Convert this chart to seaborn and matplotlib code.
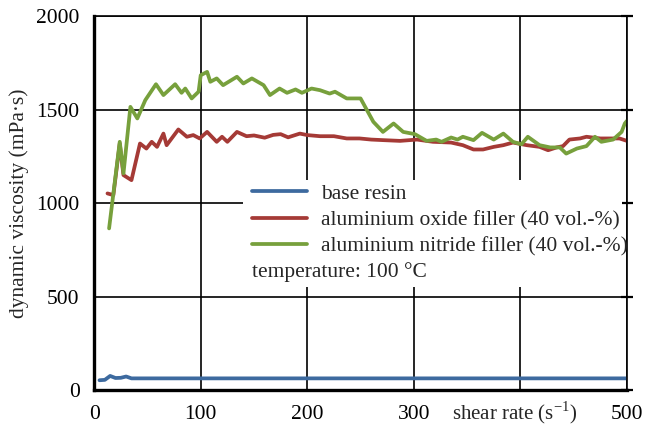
import pandas as pd
import seaborn as sns
import matplotlib.pyplot as plt
from matplotlib.patches import Rectangle

# values
base_x = [5, 10, 15, 20, 25, 30, 35, 40, 100, 200, 300, 400, 500]
base_v = [53, 55, 76, 65, 66, 73, 63, 63, 63, 63, 63, 63, 63]

oxide_x = [12.5, 18, 24, 27.5, 35, 43, 49, 54, 59, 65, 68, 79, 87, 93, 99, 106, 115, 120,
           125, 134, 143, 150, 160, 168, 175, 182, 193, 200, 212, 225, 237, 249, 260, 271,
           287, 303, 318, 335, 346, 356, 365, 375, 384, 393, 406, 418, 426, 434, 440, 446,
           456, 462, 475, 484, 493, 500]
oxide_v = [1052, 1043, 1319, 1150, 1123, 1319, 1292, 1328, 1301, 1372, 1310, 1394, 1355, 1364,
           1346, 1381, 1328, 1355, 1328, 1381, 1358, 1362, 1350, 1365, 1369, 1352, 1372, 1364,
           1358, 1358, 1346, 1346, 1340, 1337, 1333, 1340, 1328, 1324, 1310, 1287, 1287, 1301,
           1310, 1324, 1310, 1301, 1283, 1298, 1305, 1340, 1346, 1355, 1346, 1346, 1346, 1333]

nitride_x = [14, 24, 27.5, 34, 40.5, 48, 58, 65, 76, 82, 85.5, 91.5, 98, 100, 106, 109, 115,
             121, 134, 140, 148, 159, 165, 174, 181, 189, 195, 204, 212, 221, 226, 237, 250,
             262, 271, 281, 290, 301, 312, 321, 326, 335, 341, 346, 356, 364, 375, 384, 393,
             401, 407, 418, 428, 437, 443, 453, 462, 470, 476, 487, 495, 498, 500]
nitride_v = [865, 1328, 1159, 1515, 1453, 1551, 1636, 1578, 1636, 1590, 1613, 1560, 1596, 1684,
             1702, 1649, 1667, 1631, 1676, 1640, 1667, 1631, 1578, 1613, 1590, 1608, 1590, 1613,
             1604, 1586, 1596, 1560, 1560, 1435, 1381, 1426, 1381, 1369, 1333, 1340, 1328, 1351,
             1340, 1355, 1337, 1376, 1340, 1372, 1328, 1315, 1355, 1310, 1298, 1298, 1265, 1292,
             1305, 1355, 1328, 1340, 1381, 1426, 1440]

labels = ["base resin", "aluminium oxide filler (40 vol.-%)", "aluminium nitride filler (40 vol.-%)"]
colors = ["#3D6A9F", "#A53A36", "#77A03C"]

df = pd.concat([
    pd.DataFrame({"rate": base_x, "visc": base_v, "sample": labels[0]}),
    pd.DataFrame({"rate": oxide_x, "visc": oxide_v, "sample": labels[1]}),
    pd.DataFrame({"rate": nitride_x, "visc": nitride_v, "sample": labels[2]}),
])

sns.set_style("white")
plt.rcParams["font.family"] = ["Liberation Serif", "DejaVu Serif"]
plt.rcParams["mathtext.fontset"] = "custom"
plt.rcParams["mathtext.rm"] = "Liberation Serif"
fs = 15.5
plt.rcParams["font.size"] = fs

fig = plt.figure(figsize=(6.45, 4.25), dpi=100)
ax = fig.add_axes([0.146, 0.082, 0.826, 0.880])

sns.lineplot(data=df, x="rate", y="visc", hue="sample", hue_order=labels,
             palette=colors, linewidth=2.7, ax=ax, legend=True, sort=False, estimator=None)

ax.set_xlim(0, 500)
ax.set_ylim(0, 2000)
ax.set_xticks([0, 100, 200, 300, 400, 500])
ax.set_xticklabels(["0", "100", "200", "300", "", "500"])
ax.set_yticks([0, 500, 1000, 1500, 2000])
ax.set_xlabel("")
ax.set_ylabel("dynamic viscosity (mPa·s)", labelpad=5)
ax.annotate("shear rate (s$^{-1}$)", xy=(395, 0), xycoords="data",
            xytext=(0, -(9.5 + fs * 0.72)), textcoords="offset points",
            ha="center", va="baseline", fontsize=15, annotation_clip=False)

ax.set_axisbelow(True)
ax.grid(True, color="black", linewidth=1.2)
for side in ["left", "bottom"]:
    ax.spines[side].set_linewidth(2.4)
for side in ["top", "right"]:
    ax.spines[side].set_linewidth(1.2)
for sp in ax.spines.values():
    sp.set_color("black")
ax.tick_params(axis="both", direction="inout", length=9, width=1.6, colors="black", pad=6)
ax.tick_params(axis="y", right=True, labelright=False)

# white box behind legend hiding the grid
ax.add_patch(Rectangle((0.28, 0.275), 0.71, 0.287, transform=ax.transAxes,
                       facecolor="white", edgecolor="none", zorder=1))

ax.legend(loc="upper left", bbox_to_anchor=(0.28, 0.575), frameon=False, fontsize=fs,
          handlelength=2.55, handletextpad=0.65, labelspacing=0.3, borderaxespad=0)
ax.text(0.296, 0.316, "temperature: 100 °C", transform=ax.transAxes, fontsize=fs,
        ha="left", va="center")

fig.savefig("out.png", dpi=100)
